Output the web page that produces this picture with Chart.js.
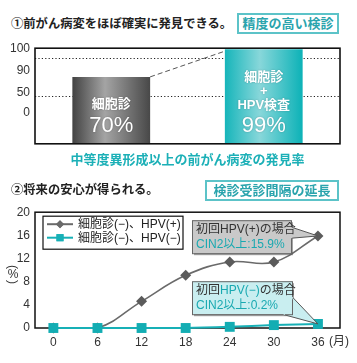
<!DOCTYPE html>
<html><head><meta charset="utf-8">
<script src="https://cdn.jsdelivr.net/npm/chart.js@4"></script>
<style>
html,body{margin:0;padding:0;background:#fff;}
body{width:357px;height:363px;position:relative;overflow:hidden;font-family:'Liberation Sans','Noto Sans CJK JP',sans-serif;}
.t{position:absolute;white-space:nowrap;color:#1a1a1a;font-family:'Liberation Sans','Noto Sans CJK JP',sans-serif;}
.title{font-size:12.3px;line-height:16px;font-weight:bold;color:#222;}
.box{box-sizing:border-box;border:2px solid #5cc3c8;background:#fff;color:#2aa4ad;font-size:13px;font-weight:bold;text-align:center;line-height:17px;}
.cap{color:#1cb0b7;font-size:13px;font-weight:bold;line-height:16px;text-align:center;}
.v{position:absolute;width:14px;height:12px;text-align:center;font-size:12px;color:#333;line-height:12px;}
canvas{position:absolute;left:0;}
</style></head>
<body>
<div class="t title" style="left:11px;top:16px;">①前がん病変をほぼ確実に発見できる。</div>
<div class="t box" style="left:237px;top:13px;width:102px;height:21px;">精度の高い検診</div>
<div style="position:absolute;left:0;top:36px;width:357px;height:120px;"><canvas id="c1"></canvas></div>
<div class="t cap" style="left:35px;top:152px;width:305px;">中等度異形成以上の前がん病変の発見率</div>
<div class="t title" style="left:11px;top:182px;">②将来の安心が得られる。</div>
<div class="t box" style="left:205px;top:180px;width:134px;height:21px;">検診受診間隔の延長</div>
<div style="position:absolute;left:0;top:200px;width:357px;height:163px;"><canvas id="c2"></canvas></div>
<div class="t" style="left:329px;top:334px;font-size:12px;color:#333;line-height:14px;">(月)</div>
<div class="v" style="left:6px;top:261px;transform:rotate(90deg);">(</div>
<div class="v" style="left:6px;top:268px;">%</div>
<div class="v" style="left:6px;top:276px;transform:rotate(90deg);">)</div>
<script>
// ---- Data: chart 1 (bars) ----
const barCategories = ['細胞診', '細胞診+HPV検査'];
const barValues = [70, 99];
const barTextLines = [['細胞診'], ['細胞診', '+', 'HPV検査']];
const barValueLabels = ['70%', '99%'];
const barRefLines = [90, 50];
const barTickValues = [99, 77, 53, 33];
const barTickLabels = ['100', '90', '50', '0'];

// ---- Data: chart 2 (lines) ----
const months = [0, 6, 12, 18, 24, 30, 36];
const xTickValues = [0, 6, 12, 18, 24, 30, 36];
const seriesPos = [0, 0, 4.6, 9.1, 11.4, 11.4, 15.9];
const seriesNeg = [0, 0, 0, 0, 0.2, 0.5, 0.7];
const seriesLabels = ['細胞診(−)、HPV(+)', '細胞診(−)、HPV(−)'];
const yTickValues = [0, 4, 8, 12, 16, 20];
const note1 = ['初回HPV(+)の場合', 'CIN2以上:15.9%'];
const note2a = ['初回', 'HPV(−)', 'の場合'];
const note2b = 'CIN2以上:0.2%';

const FONT = "'Liberation Sans','Noto Sans CJK JP',sans-serif";
Chart.defaults.font.family = FONT;
Chart.defaults.color = '#333';
Chart.defaults.animation = false;

const gradStops = [
  [[0, '#424242'], [0.42, '#a4a4a4'], [1, '#484848']],
  [[0, '#16b5ba'], [0.45, '#88d7da'], [1, '#0cb2b7']]
];
const fallbackCols = ['#707070', '#3cc0c4'];

const barPlugin = {
  id: 'barDeco',
  beforeDatasetsDraw(ch) {
    const {ctx, chartArea: ca, scales: {y}} = ch;
    ctx.save();
    ctx.strokeStyle = '#222'; ctx.lineWidth = 1.2; ctx.setLineDash([1.2, 2.2]);
    barRefLines.forEach(v => {
      const py = Math.round(y.getPixelForValue(v)) + 0.5;
      ctx.beginPath(); ctx.moveTo(ca.left, py); ctx.lineTo(ca.right, py); ctx.stroke();
    });
    ctx.restore();
  },
  afterDatasetsDraw(ch) {
    const {ctx, chartArea: ca} = ch;
    const bars = ch.getDatasetMeta(0).data;
    ctx.save();
    const a = bars[0], b = bars[1];
    ctx.strokeStyle = '#555'; ctx.lineWidth = 1; ctx.setLineDash([5, 3]);
    ctx.beginPath(); ctx.moveTo(a.x + a.width / 2, a.y); ctx.lineTo(b.x - b.width / 2, b.y + 2); ctx.stroke();
    ctx.setLineDash([]);
    ctx.fillStyle = '#fff'; ctx.textAlign = 'center'; ctx.textBaseline = 'middle';
    ctx.shadowColor = 'rgba(0,0,0,0.25)'; ctx.shadowBlur = 2;
    bars.forEach((el, i) => {
      let yy = el.y + 28;
      ctx.font = "bold 13px " + FONT;
      barTextLines[i].forEach(s => { ctx.fillText(s, el.x, yy); yy += 14; });
      ctx.font = "22px " + FONT;
      ctx.fillText(barValueLabels[i], el.x, yy + 7);
    });
    ctx.shadowBlur = 0;
    ctx.strokeStyle = '#111'; ctx.lineWidth = 1.6;
    ctx.strokeRect(ca.left, ca.top, ca.right - ca.left, ca.bottom - ca.top);
    ctx.restore();
  }
};

new Chart(document.getElementById('c1'), {
  type: 'bar',
  data: {
    labels: barCategories,
    datasets: [{
      data: barValues,
      borderWidth: 0,
      categoryPercentage: 1,
      barPercentage: 0.51,
      backgroundColor: (c) => {
        const ch = c.chart, xs = ch.scales && ch.scales.x;
        const i = c.dataIndex;
        if (!xs || i == null) return '#666';
        const cx = xs.getPixelForValue(i);
        const w = (xs.width / barValues.length) * 0.51;
        if (!isFinite(cx) || !isFinite(w) || w <= 0) return fallbackCols[i] || '#666';
        const g = ch.ctx.createLinearGradient(cx - w / 2, 0, cx + w / 2, 0);
        gradStops[i].forEach(s => g.addColorStop(s[0], s[1]));
        return g;
      }
    }]
  },
  options: {
    responsive: true, maintainAspectRatio: false,
    layout: {padding: {top: 6, right: 17, bottom: 7, left: 0}},
    plugins: {legend: {display: false}, tooltip: {enabled: false}},
    scales: {
      x: {display: false},
      y: {
        min: 0, max: 100,
        grid: {display: false, drawTicks: false}, border: {display: false},
        afterFit: s => { s.width = 35; },
        afterBuildTicks: s => { s.ticks = barTickValues.map(v => ({value: v})); },
        ticks: {padding: 5, font: {size: 12}, color: '#333', callback: (v, i) => barTickLabels[i]}
      }
    }
  },
  plugins: [barPlugin]
});

const linePlugin = {
  id: 'lineDeco',
  beforeDatasetsDraw(ch) {
    const {ctx, chartArea: ca} = ch;
    ctx.save();
    ctx.strokeStyle = '#111'; ctx.lineWidth = 1.5;
    ctx.strokeRect(ca.left, ca.top, ca.right - ca.left, ca.bottom - ca.top);
    ctx.restore();
  },
  afterDatasetsDraw(ch) {
    const {ctx, chartArea: ca} = ch;
    ctx.save();
    // legend
    const lx = ca.left + 8, ly = ca.top + 4;
    ctx.fillStyle = '#fff'; ctx.fillRect(lx, ly, 140, 33);
    ctx.strokeStyle = '#111'; ctx.lineWidth = 1.2; ctx.strokeRect(lx, ly, 140, 33);
    const cols = ['#6a6a6a', '#17b0b6'];
    const styles = ['rectRot', 'rect'];
    const rads = [4, 5];
    ctx.textBaseline = 'middle'; ctx.textAlign = 'left';
    ctx.font = "12px " + FONT;
    seriesLabels.forEach((lab, i) => {
      const yy = ly + 8 + i * 13.5;
      ctx.strokeStyle = cols[i]; ctx.lineWidth = 2;
      ctx.beginPath(); ctx.moveTo(lx + 4, yy); ctx.lineTo(lx + 30, yy); ctx.stroke();
      ctx.fillStyle = cols[i];
      Chart.helpers.drawPoint(ctx, {pointStyle: styles[i], radius: rads[i], borderWidth: 0}, lx + 17, yy);
      ctx.fill();
      ctx.fillStyle = '#222';
      ctx.fillText(lab, lx + 35, yy + 0.5);
    });
    const p1 = ch.getDatasetMeta(0).data[months.length - 1];
    const p2 = ch.getDatasetMeta(1).data[months.length - 1];
    function callout(bx, by, bw, bh, fill, tail, tip) {
      ctx.fillStyle = 'rgba(90,90,90,0.55)';
      ctx.fillRect(bx + 2, by + 2, bw, bh);
      ctx.beginPath(); ctx.moveTo(tail[0][0], tail[0][1]); ctx.lineTo(tip.x, tip.y); ctx.lineTo(tail[1][0], tail[1][1]); ctx.closePath();
      ctx.fillStyle = fill; ctx.fill();
      ctx.strokeStyle = '#555'; ctx.lineWidth = 1; ctx.stroke();
      ctx.fillStyle = fill; ctx.fillRect(bx, by, bw, bh);
      ctx.strokeStyle = '#666'; ctx.lineWidth = 1; ctx.strokeRect(bx + 0.5, by + 0.5, bw, bh);
      ctx.beginPath(); ctx.moveTo(tail[0][0], tail[0][1]); ctx.lineTo(tail[1][0], tail[1][1]);
      ctx.strokeStyle = fill; ctx.lineWidth = 1.5; ctx.stroke();
    }
    let bx = ca.left + 157, by = ca.top + 8, bw = 99, bh = 33;
    callout(bx, by, bw, bh, '#c9c9c9', [[bx + bw + 0.5, by + 7], [bx + bw + 0.5, by + 18]], p1);
    ctx.font = "12px " + FONT; ctx.textAlign = 'left'; ctx.textBaseline = 'middle';
    ctx.fillStyle = '#333'; ctx.fillText(note1[0], bx + 4, by + 9.5);
    ctx.fillStyle = '#1aa9b1'; ctx.fillText(note1[1], bx + 4, by + 24.5);
    bx = ca.left + 157; by = ca.top + 69; bw = 100; bh = 33;
    callout(bx, by, bw, bh, '#c9eef0', [[bx + bw + 0.5, by + 16], [bx + bw - 8, by + bh + 0.5]], p2);
    let tx = bx + 4;
    const cols2 = ['#333', '#1aa9b1', '#333'];
    note2a.forEach((s, i) => { ctx.fillStyle = cols2[i]; ctx.fillText(s, tx, by + 9.5); tx += ctx.measureText(s).width; });
    ctx.fillStyle = '#1aa9b1'; ctx.fillText(note2b, bx + 4, by + 24.5);
    ctx.restore();
  }
};

new Chart(document.getElementById('c2'), {
  type: 'line',
  data: {
    datasets: [
      {
        label: seriesLabels[0], order: 1, clip: false,
        data: months.map((m, i) => ({x: m, y: seriesPos[i]})),
        borderColor: '#6a6a6a', borderWidth: 1.6, tension: 0.4,
        pointStyle: 'rectRot', pointRadius: 5.5, pointBackgroundColor: '#5b5b5b', pointBorderWidth: 0
      },
      {
        label: seriesLabels[1], order: 0, clip: false,
        data: months.map((m, i) => ({x: m, y: seriesNeg[i]})),
        borderColor: '#17b0b6', borderWidth: 2, tension: 0.3,
        pointStyle: 'rect', pointRadius: 7, pointBackgroundColor: '#13adb3', pointBorderWidth: 0
      }
    ]
  },
  options: {
    responsive: true, maintainAspectRatio: false,
    layout: {padding: {top: 8, right: 17, bottom: 10, left: 0}},
    plugins: {legend: {display: false}, tooltip: {enabled: false}},
    scales: {
      x: {
        type: 'linear', min: -2.5, max: 39,
        grid: {display: false, drawTicks: false}, border: {display: false},
        afterBuildTicks: s => { s.ticks = xTickValues.map(v => ({value: v})); },
        afterFit: s => { s.height = 25; },
        ticks: {padding: 7, font: {size: 12}, color: '#333', maxRotation: 0, autoSkip: false}
      },
      y: {
        min: 0, max: 20,
        grid: {display: false, drawTicks: false}, border: {display: false},
        afterBuildTicks: s => { s.ticks = yTickValues.map(v => ({value: v})); },
        afterFit: s => { s.width = 35; },
        ticks: {padding: 5, font: {size: 12}, color: '#333'}
      }
    }
  },
  plugins: [linePlugin]
});
</script>
</body></html>
